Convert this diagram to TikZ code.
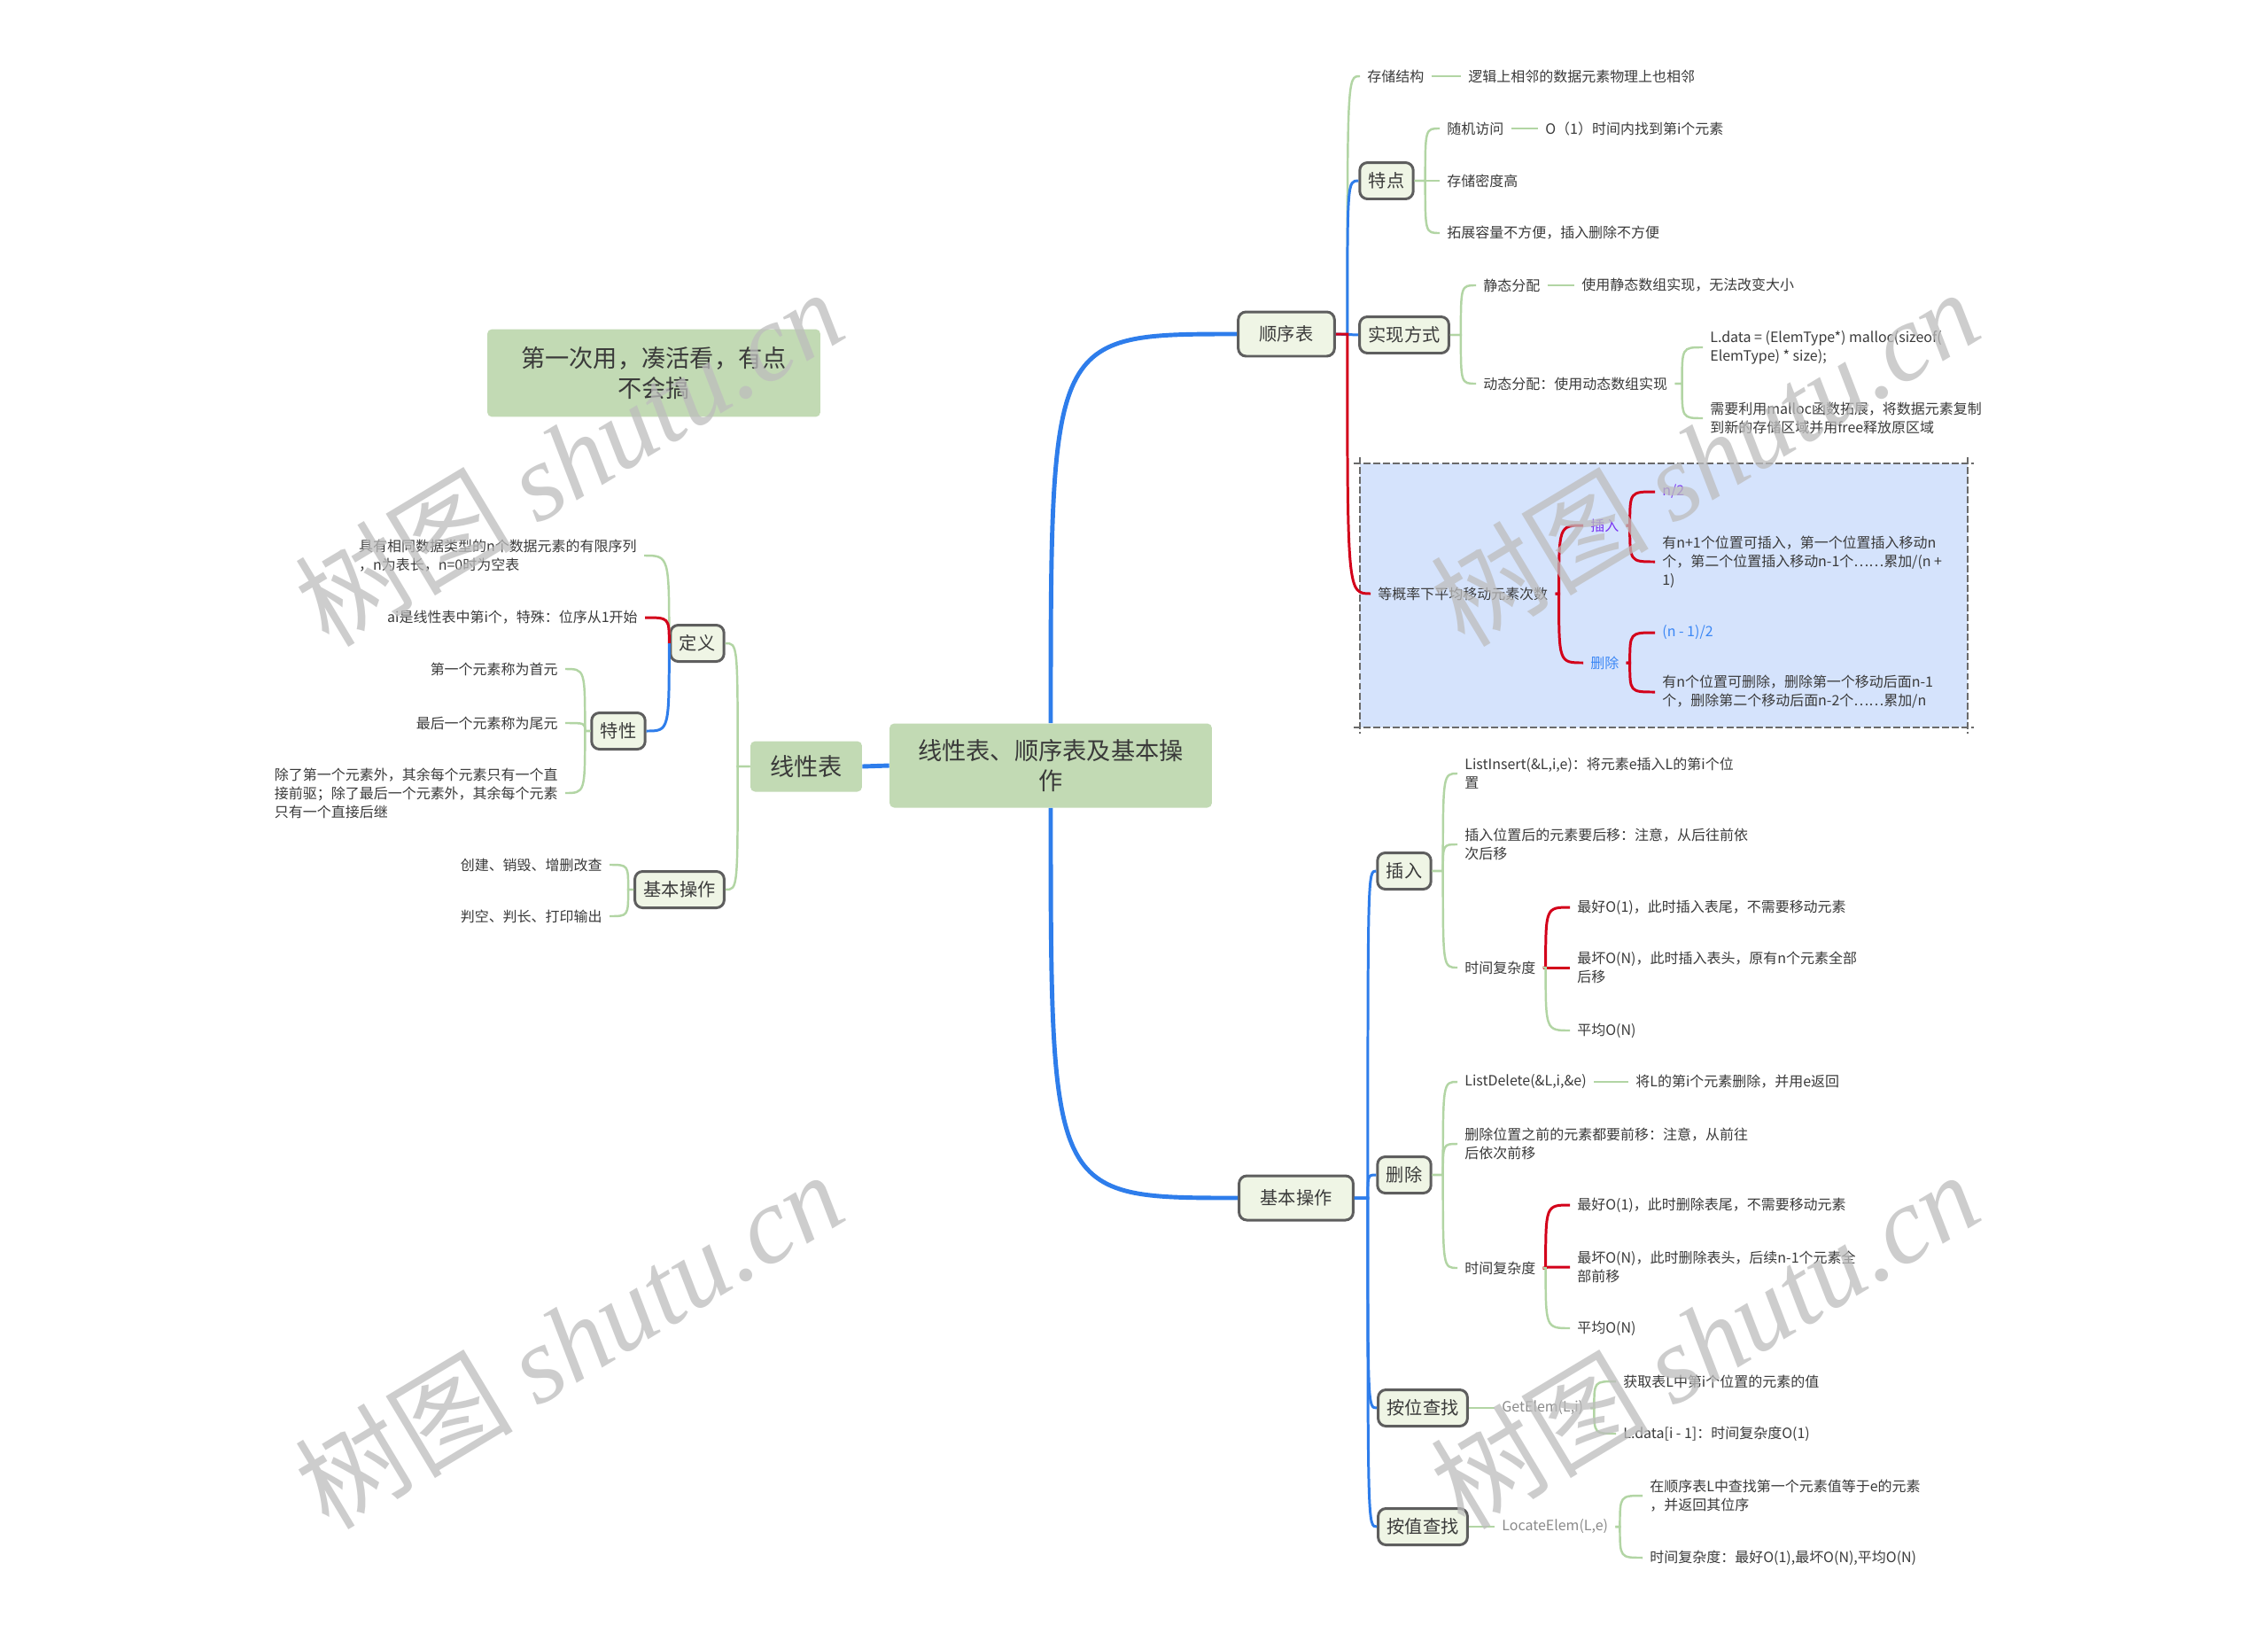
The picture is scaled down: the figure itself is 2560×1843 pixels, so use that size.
\documentclass[tikz,border=0pt]{standalone}
\usepackage{fontspec}
\setmainfont{Noto Sans CJK SC}
\newfontfamily\markserif{Liberation Serif}
\usetikzlibrary{calc}

\definecolor{inkgray}{HTML}{3A3A3A}
\definecolor{mapgreen}{HTML}{C2DAB4}
\definecolor{boxfill}{HTML}{EFF5E5}
\definecolor{boxline}{HTML}{5E5E5E}
\definecolor{twiggreen}{HTML}{B2D5A4}
\definecolor{linkblue}{HTML}{2E7DEB}
\definecolor{linkred}{HTML}{D3001A}
\definecolor{areablue}{HTML}{D5E3FC}
\definecolor{areaedge}{HTML}{6A6A6A}
\definecolor{insviolet}{HTML}{7A35F2}
\definecolor{delblue}{HTML}{3B87F5}
\definecolor{apigray}{HTML}{8A8A8A}
\definecolor{markgray}{HTML}{BDBDBD}

\begin{document}
\begin{tikzpicture}[
  x=0.02cm, y=-0.02cm,
  central/.style={fill=mapgreen, rounded corners=3pt, align=center, text=inkgray,
    font=\fontsize{15.5pt}{19.5pt}\selectfont, inner sep=0pt},
  topic/.style={draw=boxline, line width=1.7pt, fill=boxfill, rounded corners=5pt, text=inkgray,
    font=\fontsize{11.5pt}{14pt}\selectfont, minimum height=1cm, inner xsep=0.48cm, inner ysep=0pt},
  subtopic/.style={topic, minimum height=0.82cm, inner xsep=0.2cm},
  leaf/.style={align=left, text=inkgray, font=\fontsize{9.1pt}{12pt}\selectfont, inner xsep=0.16cm, inner ysep=1pt},
  trunk/.style={draw=linkblue, line width=2.8pt},
  bluetwig/.style={draw=linkblue, line width=1.7pt},
  redtwig/.style={draw=linkred, line width=1.7pt},
  greentwig/.style={draw=twiggreen, line width=1.4pt},
  zone/.style={draw=areaedge, line width=1.3pt, dash pattern=on 4.5pt off 1.8pt},
  watermark/.style={rotate=31, text=markgray, opacity=0.75, font=\fontsize{70pt}{70pt}\selectfont}
]

\fill[white] (0,0) rectangle (2560,1843);
\useasboundingbox (0,0) rectangle (2560,1843);

% boundary round the average-moves branch
\fill[areablue] (1535,523) rectangle (2221,821);
\draw[zone] (1528,523) -- (2228,523);
\draw[zone] (1528,821) -- (2228,821);
\draw[zone] (1535,516) -- (1535,828);
\draw[zone] (2221,516) -- (2221,828);

% centre and floating note
\node[central, minimum width=7.28cm, minimum height=1.9cm] (root) at (1186,864) {线性表、顺序表及基本操\\作};
\node[central, minimum width=2.52cm, minimum height=1.14cm] (lin) at (910,865) {线性表};
\node[central, minimum width=7.52cm, minimum height=1.98cm] (remark) at (738,421) {第一次用，凑活看，有点\\不会搞};

% 线性表 side
\node[subtopic] (def) at (787,726) {定义};
\node[leaf, anchor=east] (defseq) at (727,627) {具有相同数据类型的n个数据元素的有限序列\\，n为表长，n=0时为空表};
\node[leaf, anchor=east] (defpos) at (728,697) {ai是线性表中第i个，特殊：位序从1开始};
\node[subtopic] (prop) at (698,825) {特性};
\node[leaf, anchor=east] (propfirst) at (638,755) {第一个元素称为首元};
\node[leaf, anchor=east] (proplast) at (638,816) {最后一个元素称为尾元};
\node[leaf, anchor=east] (proprel) at (638,895) {除了第一个元素外，其余每个元素只有一个直\\接前驱；除了最后一个元素外，其余每个元素\\只有一个直接后继};
\node[subtopic] (bop) at (767,1004) {基本操作};
\node[leaf, anchor=east] (bopmake) at (688,976) {创建、销毁、增删改查};
\node[leaf, anchor=east] (bopcheck) at (688,1034) {判空、判长、打印输出};

% 顺序表 side
\node[topic] (seq) at (1452,377) {顺序表};
\node[leaf, anchor=west] (store) at (1535,86) {存储结构};
\node[leaf, anchor=west] (storev) at (1649,86) {逻辑上相邻的数据元素物理上也相邻};
\node[subtopic] (feat) at (1565,204) {特点};
\node[leaf, anchor=west] (rand) at (1625,145) {随机访问};
\node[leaf, anchor=west] (randv) at (1736,145) {O（1）时间内找到第i个元素};
\node[leaf, anchor=west] (dense) at (1625,204) {存储密度高};
\node[leaf, anchor=west] (expand) at (1625,263) {拓展容量不方便，插入删除不方便};
\node[subtopic] (impl) at (1585,378) {实现方式};
\node[leaf, anchor=west] (static) at (1666,322) {静态分配};
\node[leaf, anchor=west] (staticv) at (1777,322) {使用静态数组实现，无法改变大小};
\node[leaf, anchor=west] (dyn) at (1666,433) {动态分配：使用动态数组实现};
\node[leaf, anchor=west] (malloc) at (1922,392) {L.data = (ElemType*) malloc(sizeof(\\ElemType) * size);};
\node[leaf, anchor=west] (grow) at (1922,472) {需要利用malloc函数拓展，将数据元素复制\\到新的存储区域并用free释放原区域};
\node[leaf, anchor=west] (avg) at (1547,670) {等概率下平均移动元素次数};
\node[leaf, anchor=west, text=insviolet] (avgins) at (1787,593) {插入};
\node[leaf, anchor=west, text=insviolet] (insn) at (1868,555) {n/2};
\node[leaf, anchor=west] (insways) at (1868,634) {有n+1个位置可插入，第一个位置插入移动n\\个，第二个位置插入移动n-1个……累加/(n +\\1)};
\node[leaf, anchor=west, text=delblue] (avgdel) at (1787,748) {删除};
\node[leaf, anchor=west, text=delblue] (deln) at (1868,714) {(n - 1)/2};
\node[leaf, anchor=west] (delways) at (1868,781) {有n个位置可删除，删除第一个移动后面n-1\\个，删除第二个移动后面n-2个……累加/n};

% 基本操作 side
\node[topic] (ops) at (1463,1352) {基本操作};
\node[subtopic] (ins) at (1585,983) {插入};
\node[leaf, anchor=west] (insapi) at (1645,873) {ListInsert(\&L,i,e)：将元素e插入L的第i个位\\置};
\node[leaf, anchor=west] (insmove) at (1645,953) {插入位置后的元素要后移：注意，从后往前依\\次后移};
\node[leaf, anchor=west] (instime) at (1645,1092) {时间复杂度};
\node[leaf, anchor=west] (insbest) at (1772,1024) {最好O(1)，此时插入表尾，不需要移动元素};
\node[leaf, anchor=west] (insworst) at (1772,1092) {最坏O(N)，此时插入表头，原有n个元素全部\\后移};
\node[leaf, anchor=west] (insavg) at (1772,1163) {平均O(N)};
\node[subtopic] (del) at (1585,1326) {删除};
\node[leaf, anchor=west] (delapi) at (1645,1221) {ListDelete(\&L,i,\&e)};
\node[leaf, anchor=west] (delapiv) at (1838,1221) {将L的第i个元素删除，并用e返回};
\node[leaf, anchor=west] (delmove) at (1645,1291) {删除位置之前的元素都要前移：注意，从前往\\后依次前移};
\node[leaf, anchor=west] (deltime) at (1645,1431) {时间复杂度};
\node[leaf, anchor=west] (delbest) at (1772,1360) {最好O(1)，此时删除表尾，不需要移动元素};
\node[leaf, anchor=west] (delworst) at (1772,1430) {最坏O(N)，此时删除表头，后续n-1个元素全\\部前移};
\node[leaf, anchor=west] (delavg) at (1772,1499) {平均O(N)};
\node[subtopic] (pos) at (1606,1589) {按位查找};
\node[leaf, anchor=west, text=apigray] (getelem) at (1687,1589) {GetElem(L,i)};
\node[leaf, anchor=west] (posget) at (1824,1559) {获取表L中第i个位置的元素的值};
\node[leaf, anchor=west] (posdata) at (1824,1618) {L.data[i - 1]：时间复杂度O(1)};
\node[subtopic] (val) at (1606,1723) {按值查找};
\node[leaf, anchor=west, text=apigray] (locate) at (1687,1723) {LocateElem(L,e)};
\node[leaf, anchor=west] (valfind) at (1854,1688) {在顺序表L中查找第一个元素值等于e的元素\\，并返回其位序};
\node[leaf, anchor=west] (valtime) at (1854,1758) {时间复杂度：最好O(1),最坏O(N),平均O(N)};

% main branches
\draw[trunk] (lin.east) -- (root.west);
\draw[trunk] (root.north) .. controls (root.north |- seq.west) .. (seq.west);
\draw[trunk] (root.south) .. controls (root.south |- ops.west) .. (ops.west);

% left tree
\coordinate (linJ) at ($(lin.west)+(-14,0)$);
\foreach \leafname in {def,bop}
  \draw[greentwig] (lin.west) -- (linJ) .. controls (linJ |- \leafname.east) .. (\leafname.east);
\draw[greentwig] (def.west) .. controls (def.west |- defseq.east) .. (defseq.east);
\draw[redtwig] (def.west) .. controls (def.west |- defpos.east) .. (defpos.east);
\draw[bluetwig] (def.west) .. controls (def.west |- prop.east) .. (prop.east);
\coordinate (propJ) at ($(prop.west)+(-6,0)$);
\foreach \leafname in {propfirst,proplast,proprel}
  \draw[greentwig] (prop.west) -- (propJ) .. controls (propJ |- \leafname.east) .. (\leafname.east);
\coordinate (bopJ) at ($(bop.west)+(-6,0)$);
\foreach \leafname in {bopmake,bopcheck}
  \draw[greentwig] (bop.west) -- (bopJ) .. controls (bopJ |- \leafname.east) .. (\leafname.east);

% 顺序表 tree
\coordinate (seqJ) at ($(seq.east)+(13,0)$);
\draw[greentwig] (seqJ) .. controls (seqJ |- store.west) .. (store.west);
\draw[bluetwig] (seqJ) .. controls (seqJ |- feat.west) .. (feat.west);
\draw[bluetwig] (seq.east) -- (impl.west);
\draw[redtwig] (seq.east) -- (seqJ) .. controls (seqJ |- avg.west) .. (avg.west);
\draw[greentwig] (store.east) -- (storev.west);
\coordinate (featJ) at ($(feat.east)+(12,0)$);
\foreach \leafname in {rand,dense,expand}
  \draw[greentwig] (feat.east) -- (featJ) .. controls (featJ |- \leafname.west) .. (\leafname.west);
\draw[greentwig] (rand.east) -- (randv.west);
\coordinate (implJ) at ($(impl.east)+(12,0)$);
\foreach \leafname in {static,dyn}
  \draw[greentwig] (impl.east) -- (implJ) .. controls (implJ |- \leafname.west) .. (\leafname.west);
\draw[greentwig] (static.east) -- (staticv.west);
\coordinate (dynJ) at ($(dyn.east)+(8,0)$);
\foreach \leafname in {malloc,grow}
  \draw[greentwig] (dyn.east) -- (dynJ) .. controls (dynJ |- \leafname.west) .. (\leafname.west);
\coordinate (avgJ) at ($(avg.east)+(4,0)$);
\foreach \leafname in {avgins,avgdel}
  \draw[redtwig] (avg.east) -- (avgJ) .. controls (avgJ |- \leafname.west) .. (\leafname.west);
\coordinate (avginsJ) at ($(avgins.east)+(4,0)$);
\foreach \leafname in {insn,insways}
  \draw[redtwig] (avgins.east) -- (avginsJ) .. controls (avginsJ |- \leafname.west) .. (\leafname.west);
\coordinate (avgdelJ) at ($(avgdel.east)+(4,0)$);
\foreach \leafname in {deln,delways}
  \draw[redtwig] (avgdel.east) -- (avgdelJ) .. controls (avgdelJ |- \leafname.west) .. (\leafname.west);

% 基本操作 tree
\coordinate (opsJ) at ($(ops.east)+(15,0)$);
\foreach \leafname in {ins,del,pos,val}
  \draw[bluetwig] (ops.east) -- (opsJ) .. controls (opsJ |- \leafname.west) .. (\leafname.west);
\coordinate (insJ) at ($(ins.east)+(12,0)$);
\foreach \leafname in {insapi,insmove,instime}
  \draw[greentwig] (ins.east) -- (insJ) .. controls (insJ |- \leafname.west) .. (\leafname.west);
\coordinate (instimeJ) at ($(instime.east)+(3,0)$);
\foreach \leafname in {insbest,insworst}
  \draw[redtwig] (instime.east) -- (instimeJ) .. controls (instimeJ |- \leafname.west) .. (\leafname.west);
\draw[greentwig] (instime.east) -- (instimeJ) .. controls (instimeJ |- insavg.west) .. (insavg.west);
\coordinate (delJ) at ($(del.east)+(12,0)$);
\foreach \leafname in {delapi,delmove,deltime}
  \draw[greentwig] (del.east) -- (delJ) .. controls (delJ |- \leafname.west) .. (\leafname.west);
\draw[greentwig] (delapi.east) -- (delapiv.west);
\coordinate (deltimeJ) at ($(deltime.east)+(3,0)$);
\foreach \leafname in {delbest,delworst}
  \draw[redtwig] (deltime.east) -- (deltimeJ) .. controls (deltimeJ |- \leafname.west) .. (\leafname.west);
\draw[greentwig] (deltime.east) -- (deltimeJ) .. controls (deltimeJ |- delavg.west) .. (delavg.west);
\draw[greentwig] (pos.east) -- (getelem.west);
\coordinate (getelemJ) at ($(getelem.east)+(4,0)$);
\foreach \leafname in {posget,posdata}
  \draw[greentwig] (getelem.east) -- (getelemJ) .. controls (getelemJ |- \leafname.west) .. (\leafname.west);
\draw[greentwig] (val.east) -- (locate.west);
\coordinate (locateJ) at ($(locate.east)+(5,0)$);
\foreach \leafname in {valfind,valtime}
  \draw[greentwig] (locate.east) -- (locateJ) .. controls (locateJ |- \leafname.west) .. (\leafname.west);

% watermarks
\foreach \wx/\wy in {642/516, 1924/516, 642/1512, 1924/1512}
  \node[watermark] (mark-\wx-\wy) at (\wx,\wy) {树图 {\markserif\itshape shutu.cn}};

\end{tikzpicture}
\end{document}
